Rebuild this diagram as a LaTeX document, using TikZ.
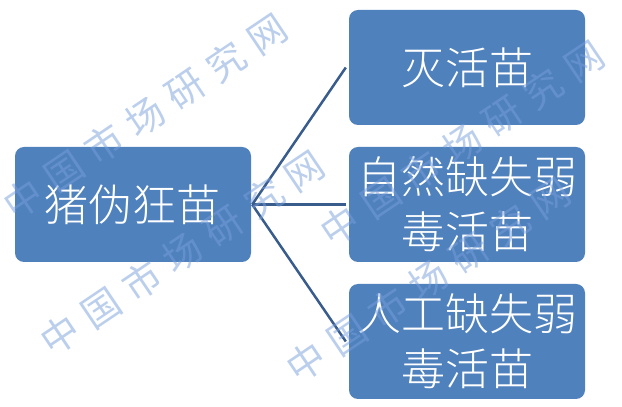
\documentclass[tikz,border=0pt]{standalone}
\usepackage{fontspec}
\usepackage{tikz}
\newfontfamily\cjk[UprightFont={* Light}]{Noto Sans CJK SC}
\newfontfamily\cjkmark{Noto Sans CJK SC}
\definecolor{boxblue}{RGB}{79,129,189}
\definecolor{linkblue}{RGB}{56,92,140}
\definecolor{markblue}{RGB}{120,160,220}
\newcommand{\marktext}{中\hspace{11pt}国\hspace{11pt}市\hspace{11pt}场\hspace{11pt}研\hspace{11pt}究\hspace{11pt}网}

\begin{document}
\begin{tikzpicture}[x=1pt, y=1pt, grow'=right, level distance=334pt,
      level 1/.style={sibling distance=137pt},
      edge from parent/.style={draw, color=linkblue, line width=2.5pt},
      edge from parent path={([xshift=1pt]\tikzparentnode.east) -- ([xshift=-3pt]\tikzchildnode.west)}]
    \tikzstyle{vbox} = [fill=boxblue, text=white, rounded corners=9pt, minimum width=236pt, minimum height=115pt, inner sep=0pt, align=center, font=\cjk\fontsize{44}{55}\selectfont]
    \tikzstyle{wmark} = [text=markblue, text opacity=0.5, rotate=34, inner sep=0pt, font=\cjkmark\fontsize{38}{38}\selectfont]
    \useasboundingbox (0,0) rectangle (622,407);
    \node (vaccine) [vbox] at (133,202.5) {猪伪狂苗}
      child {node (inactivated) [vbox] {灭活苗}}
      child {node (natural) [vbox] {自然缺失弱\\毒活苗}}
      child {node (artificial) [vbox] {人工缺失弱\\毒活苗}}
      ;
    % watermark
    \node (markA) [wmark] at (145,290.5) {\marktext};
    \node (markB) [wmark] at (182.5,154) {\marktext};
    \node (markC) [wmark] at (462,263.5) {\marktext};
    \node (markD) [wmark] at (428.5,127) {\marktext};
\end{tikzpicture}
\end{document}
